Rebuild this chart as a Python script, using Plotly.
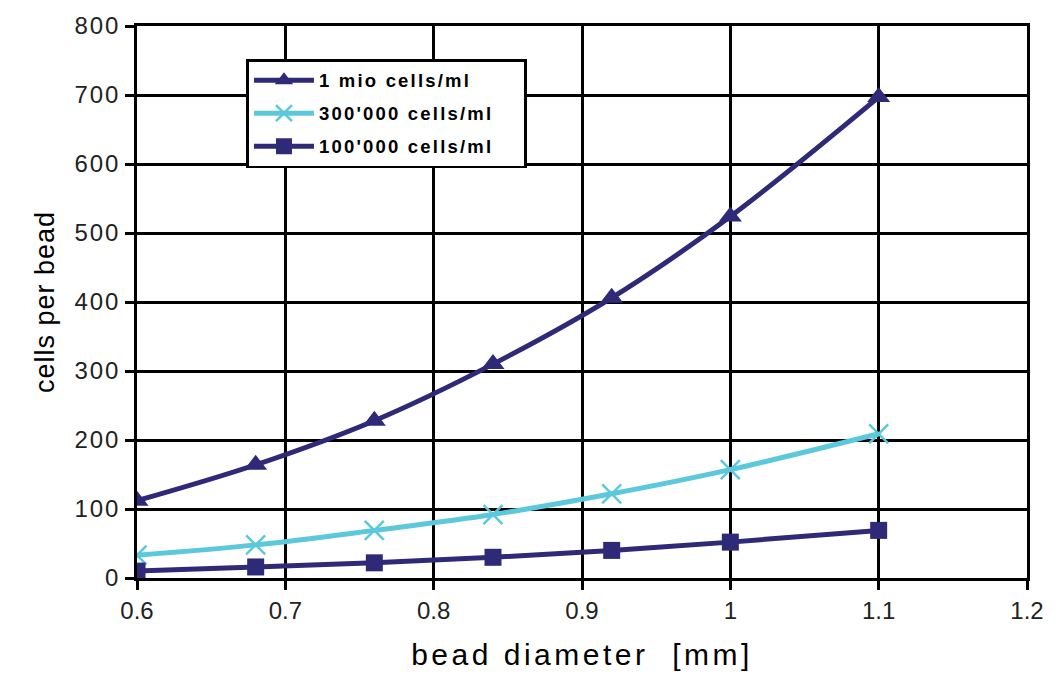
import plotly.graph_objects as go

diameter = [0.6, 0.68, 0.76, 0.84, 0.92, 1.0, 1.1]
mio_1 = [112, 164, 228, 310, 406, 524, 697]
k300 = [33, 48, 69, 92, 122, 157, 209]
k100 = [10, 16, 22, 30, 40, 52, 69]
x_ticks = [0.6, 0.7, 0.8, 0.9, 1.0, 1.1, 1.2]
x_tick_labels = ["0.6", "0.7", "0.8", "0.9", "1", "1.1", "1.2"]

navy = "#2E2A78"
cyan = "#5BC8DC"
font_family = "Liberation Sans, Arial, sans-serif"

fig = go.Figure()
fig.add_trace(go.Scatter(x=diameter, y=mio_1, name="1 mio cells/ml", mode="lines+markers",
                         legendgroup="a",
                         line=dict(color=navy, width=5, shape="spline"),
                         marker=dict(symbol="triangle-up", size=20, color=navy)))
fig.add_trace(go.Scatter(x=diameter, y=k300, name="300'000 cells/ml", mode="lines+markers",
                         legendgroup="b",
                         line=dict(color=cyan, width=5, shape="spline"),
                         marker=dict(symbol="x-thin-open", size=19, color=cyan,
                                     line=dict(color=cyan, width=2.5))))
fig.add_trace(go.Scatter(x=diameter, y=k100, name="100'000 cells/ml", mode="lines+markers",
                         legendgroup="c",
                         line=dict(color=navy, width=5, shape="spline"),
                         marker=dict(symbol="square", size=17, color=navy)))

axis_common = dict(showgrid=True, gridcolor="black", gridwidth=2.5, zeroline=False,
                   showline=True, linecolor="black", linewidth=2.5, mirror=True,
                   ticks="outside", ticklen=9, tickwidth=2.5, tickcolor="black",
                   tickfont=dict(family=font_family, size=24, color="#222"))

fig.update_layout(
    width=1056, height=684,
    margin=dict(l=137, r=24, t=23, b=106),
    paper_bgcolor="white", plot_bgcolor="white",
    showlegend=True,
    legend=dict(x=0.123, y=0.94, xanchor="left", yanchor="top",
                bgcolor="white", bordercolor="black", borderwidth=2.5,
                font=dict(family=font_family, size=18.5, color="black", weight="bold"),
                itemwidth=60, tracegroupgap=6),
    xaxis=dict(range=[0.6, 1.2], tickvals=x_ticks, ticktext=x_tick_labels,
               title=dict(text="bead diameter  [mm]", standoff=22,
                          font=dict(family=font_family, size=30, color="black")),
               **axis_common),
    yaxis=dict(range=[0, 800], tickvals=list(range(0, 801, 100)),
               title=dict(text="cells per bead", standoff=18,
                          font=dict(family=font_family, size=27, color="black")),
               **axis_common),
)

post = """
document.body.style.margin='0';document.body.style.padding='0';
(function(){
  var gd = document.querySelector('.plotly-graph-div');
  if(!gd) return;
  gd.querySelectorAll('.legendtext').forEach(function(t){t.style.letterSpacing='2.2px';});
  var xt = gd.querySelector('.g-xtitle text'); if(xt) xt.style.letterSpacing='3.5px';
  var yt = gd.querySelector('.g-ytitle text'); if(yt) yt.style.letterSpacing='1px';
  gd.querySelectorAll('.ytick text').forEach(function(t){t.style.letterSpacing='2px';});
  var bg = gd.querySelector('.legend rect.bg'); if(bg) bg.setAttribute('width', 278);
  gd.querySelectorAll('.legend [clip-path]').forEach(function(e){e.removeAttribute('clip-path');});
  document.querySelectorAll('clipPath[id*="legend"] rect').forEach(function(r){r.setAttribute('width', 400);});
})();
"""

fig.write_html("out.html", post_script=post, config={"displayModeBar": False})
